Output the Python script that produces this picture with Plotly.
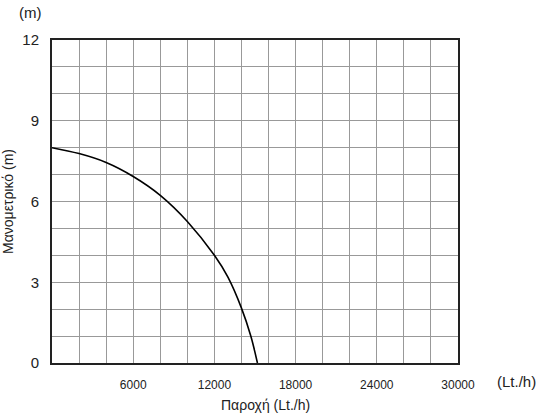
import plotly.graph_objects as go

# pump curve: flow (Lt./h) vs head (m)
flow = [0, 2000, 4000, 6000, 8000, 10000, 12000, 13000, 14000, 14690, 15180]
head = [8.0, 7.78, 7.45, 6.93, 6.23, 5.26, 4.0, 3.19, 2.04, 1.0, 0.0]

x_ticks = [6000, 12000, 18000, 24000, 30000]
y_ticks = [0, 3, 6, 9, 12]

font = "Liberation Sans, Arial, sans-serif"

fig = go.Figure()
fig.add_trace(go.Scatter(
    x=flow, y=head, mode="lines",
    line=dict(color="black", width=1.6, shape="spline", smoothing=1.0),
    hoverinfo="skip", showlegend=False,
))

fig.update_xaxes(
    range=[0, 30000], tickvals=x_ticks, ticktext=[str(v) for v in x_ticks],
    showgrid=True, gridcolor="#999999", gridwidth=1,
    minor=dict(dtick=2000, tick0=0, showgrid=True, gridcolor="#999999", gridwidth=1),
    showline=True, linecolor="#222222", linewidth=2, mirror=True,
    zeroline=False, ticks="", ticklabelstandoff=10, automargin=False,
    tickfont=dict(family=font, size=12, color="#222222"),
)
fig.update_yaxes(
    range=[0, 12], tickvals=y_ticks,
    showgrid=True, gridcolor="#999999", gridwidth=1,
    minor=dict(dtick=1, tick0=0, showgrid=True, gridcolor="#999999", gridwidth=1),
    showline=True, linecolor="#222222", linewidth=2, mirror=True,
    zeroline=False, ticks="", ticklabelstandoff=8, automargin=False,
    tickfont=dict(family=font, size=15, color="#222222"),
    title=dict(text="Μανομετρικό (m)", font=dict(family=font, size=14, color="#222222"), standoff=11),
)

# x title sits a little right of the plot centre in the original
fig.add_annotation(text="Παροχή (Lt./h)", xref="paper", yref="paper", x=0.527, y=0.0, yshift=-42,
                   showarrow=False, xanchor="center", yanchor="middle",
                   font=dict(family=font, size=14, color="#222222"))
fig.add_annotation(text="(m)", xref="paper", yref="paper", x=0, y=1.0, xshift=-22, yshift=28,
                   showarrow=False, xanchor="center", yanchor="middle",
                   font=dict(family=font, size=15, color="#222222"))
fig.add_annotation(text="(Lt./h)", xref="paper", yref="paper", x=1.0, y=0.0, xshift=80, yshift=-18,
                   showarrow=False, xanchor="right", yanchor="middle",
                   font=dict(family=font, size=15, color="#222222"))

fig.update_layout(
    width=540, height=415,
    margin=dict(l=52, r=82, t=40, b=52),
    paper_bgcolor="white", plot_bgcolor="white",
    font=dict(family=font),
)

# browser default body margin would shift the figure by 8px
fig.write_html("out.html", config={"displayModeBar": False},
               post_script="document.body.style.margin='0';")
